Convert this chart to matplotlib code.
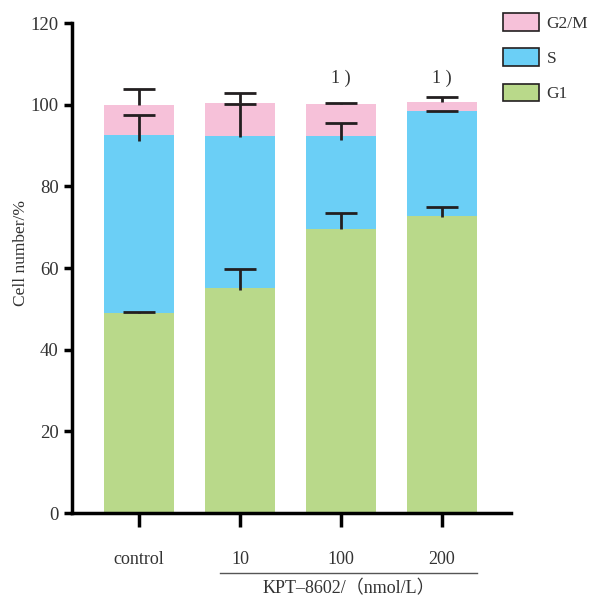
import matplotlib
matplotlib.use('Agg')
import numpy as np
import matplotlib.pyplot as plt
from matplotlib.patches import Patch

plt.rcParams['font.family'] = ['Liberation Serif', 'Noto Sans CJK SC']

# 数据
groups = ['control', '10', '100', '200']
g1 = [49.0, 55.2, 69.6, 72.8]
g1_sd = [0.3, 4.5, 3.8, 2.1]
g1_low = [0.0, 0.5, 0.0, 0.3]
s = [43.6, 37.1, 22.7, 25.6]
s_sd = [4.8, 7.8, 3.1, 0.0]
s_low = [1.5, 0.3, 1.0, 0.0]
g2m = [7.4, 8.2, 7.9, 2.2]
g2m_sd = [3.8, 2.3, 0.1, 1.2]
sig = ['', '', '1 )', '1 )']

c_g1 = '#B9D98A'
c_s = '#6BCFF6'
c_g2m = '#F6C1D9'
c_err = '#231F20'

x = np.arange(len(groups))
g1 = np.array(g1)
s = np.array(s)
g2m = np.array(g2m)
s_top = g1 + s
tot = s_top + g2m

fig = plt.figure(figsize=(5.91, 6.01), dpi=100)
ax = fig.add_axes([72/591, 1-513/601, (511-72)/591, 490/601])

w = 0.7
ax.bar(x, g1, w, color=c_g1, zorder=1)
ax.bar(x, s, w, bottom=g1, color=c_s, zorder=1)
ax.bar(x, g2m, w, bottom=s_top, color=c_g2m, zorder=1)

def err(y, low, high):
    _, caps, _ = ax.errorbar(x, y, yerr=[low, high], fmt='none', ecolor=c_err,
                             elinewidth=2, capsize=11.5, capthick=2, zorder=3)
    caps[0].set_visible(False)

err(g1, g1_low, g1_sd)
err(s_top, s_low, s_sd)
err(tot, np.zeros(4), g2m_sd)

for xi, t in zip(x, sig):
    if t:
        ax.text(xi, 104.3, t, ha='center', va='bottom', fontsize=13, color='#333333')

ax.set_xlim(-0.663, 3.683)
ax.set_ylim(0, 120)
ax.set_yticks(range(0, 121, 20))
ax.set_xticks(x)
ax.set_xticklabels(groups, fontsize=13)
ax.tick_params(axis='y', labelsize=13.5, width=2.5, length=5.5, pad=4, colors='black')
ax.tick_params(axis='x', width=2.5, length=10, pad=17)
for lab in ax.get_xticklabels() + ax.get_yticklabels():
    lab.set_color('#333333')
ax.spines['top'].set_visible(False)
ax.spines['right'].set_visible(False)
ax.spines['left'].set_linewidth(2.5)
ax.spines['bottom'].set_linewidth(2.5)
ax.set_ylabel('Cell number/%', fontsize=12.5, color='#333333')
ax.yaxis.set_label_coords(-(72-29)/439, (513-253)/490)

# 横轴下方的分组线与标题
fig.add_artist(plt.Line2D([220/591, 477/591], [1-573/601, 1-573/601],
                          color='#555555', lw=1))
fig.text(349/591, 1-589/601, 'KPT–8602/（nmol/L）', ha='center', va='center',
         fontsize=13, color='#333333')

handles = [Patch(facecolor=c_g2m, edgecolor='#231F20', lw=1.2, label='G2/M'),
           Patch(facecolor=c_s, edgecolor='#231F20', lw=1.2, label='S'),
           Patch(facecolor=c_g1, edgecolor='#231F20', lw=1.2, label='G1')]
leg = fig.legend(handles=handles, loc='upper left', bbox_to_anchor=(503/591, 1-13/601),
                 frameon=False, fontsize=12.5, handlelength=2.1, handleheight=1.2,
                 labelspacing=0.95, handletextpad=0.4, borderpad=0, borderaxespad=0)
for t in leg.get_texts():
    t.set_color('#333333')

plt.savefig('out.png', dpi=100)
